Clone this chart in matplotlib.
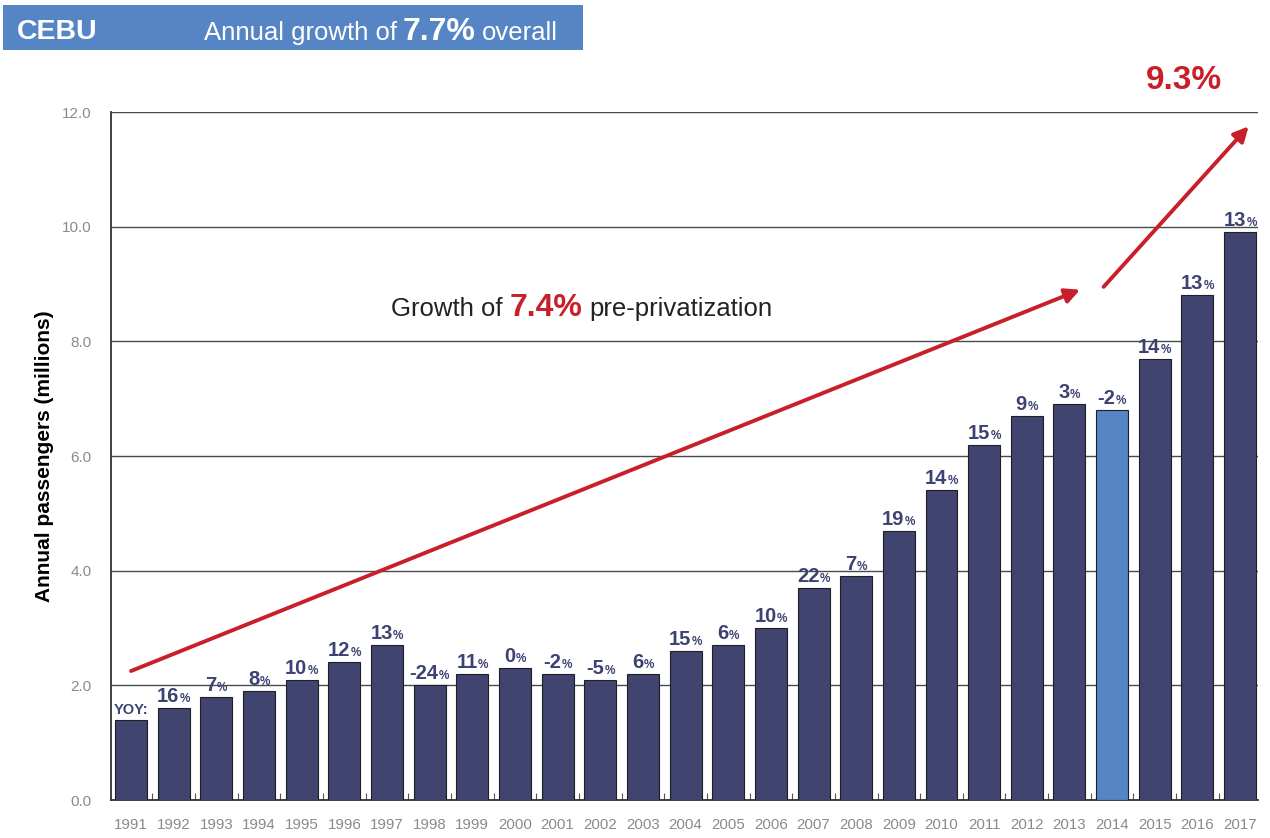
import matplotlib
matplotlib.use('Agg')
import matplotlib.pyplot as plt
from matplotlib.transforms import IdentityTransform
from matplotlib.patches import Rectangle
from matplotlib.ticker import FixedLocator

# annual passengers at Cebu airport, millions
years = list(range(1991, 2018))
passengers = [1.4, 1.6, 1.8, 1.9, 2.1, 2.4, 2.7, 2.0, 2.2, 2.3, 2.2, 2.1, 2.2,
              2.6, 2.7, 3.0, 3.7, 3.9, 4.7, 5.4, 6.2, 6.7, 6.9, 6.8, 7.7, 8.8, 9.9]
# year-on-year growth, %
yoy = [None, 16, 7, 8, 10, 12, 13, -24, 11, 0, -2, -5, 6, 15, 6, 10, 22, 7,
       19, 14, 15, 9, 3, -2, 14, 13, 13]
highlight_year = 2014
y_ticks = [0, 2, 4, 6, 8, 10, 12]

overall_growth = 7.7
pre_growth = 7.4
post_growth = 9.3
# trend arrows (year, millions)
pre_trend = [(1991, 2.25), (2013.25, 8.9)]
post_trend = [(2013.8, 8.95), (2017.2, 11.75)]

NAVY = '#40446e'
LABEL = '#3d4273'
BLUE = '#5585c5'
RED = '#c8202a'
GREY = '#8a8a8a'

plt.rcParams['font.family'] = ['Liberation Sans', 'DejaVu Sans']

W, H = 1270, 838
fig = plt.figure(figsize=(W / 100, H / 100), dpi=100)
ax = fig.add_axes([111 / W, 1 - 800 / H, 1147 / W, 688 / H])

colors = [BLUE if y == highlight_year else NAVY for y in years]
ax.bar(years, passengers, width=0.75, color=colors, edgecolor='#1e1e2a',
       linewidth=0.8, zorder=3)

ax.set_xlim(1990.53, 2017.42)
ax.set_ylim(0, 12)
ax.set_yticks(y_ticks)
ax.set_yticklabels([f'{v:.1f}' for v in y_ticks])
ax.set_xticks(years)
ax.set_xticklabels([str(y) for y in years])
ax.xaxis.set_minor_locator(FixedLocator([y + 0.5 for y in years[:-1]]))
ax.tick_params(axis='y', length=0, pad=14, labelsize=11, labelcolor=GREY)
ax.tick_params(axis='x', which='major', length=0, pad=13, labelsize=10.8,
               labelcolor=GREY)
ax.tick_params(axis='x', which='minor', direction='in', length=5, width=0.8,
               color='#555555')

ax.grid(axis='y', color='#4a4a4a', linewidth=1.0, zorder=0)
ax.set_axisbelow(True)
for side in ('top', 'right'):
    ax.spines[side].set_visible(False)
for side in ('left', 'bottom'):
    ax.spines[side].set_color('#333333')
    ax.spines[side].set_linewidth(1.3)

ax.set_ylabel('Annual passengers (millions)', fontsize=15, fontweight='bold',
              color='black')
ax.yaxis.set_label_coords(-0.05, 0.5)

# trend arrows
for start, end in (pre_trend, post_trend):
    ax.annotate('', xy=end, xytext=start,
                arrowprops=dict(arrowstyle='-|>', color=RED, lw=2.8,
                                mutation_scale=22, shrinkA=0, shrinkB=0),
                zorder=5)

renderer = fig.canvas.get_renderer()


def draw_runs(runs, x, y, ha='left'):
    """Place text pieces side by side on one baseline, in pixel coords."""
    texts, widths = [], []
    for s, size, weight, color, gap in runs:
        t = fig.text(0, y, s, transform=IdentityTransform(), fontsize=size,
                     fontweight=weight, color=color, va='baseline', ha='left',
                     zorder=10)
        texts.append(t)
        widths.append(t.get_window_extent(renderer).width + gap)
    total = sum(widths)
    x0 = x - total / 2 if ha == 'center' else x
    for t, w in zip(texts, widths):
        t.set_x(x0)
        x0 += w


# YOY labels above bars
for year, val, g in zip(years, passengers, yoy):
    px, py = ax.transData.transform((year, val))
    if g is None:
        draw_runs([('YOY:', 10.5, 'bold', LABEL, 0)], px, py + 6, ha='center')
    else:
        draw_runs([(f'{g}', 14.5, 'bold', LABEL, 0.5),
                   ('%', 8.5, 'bold', LABEL, 0)], px, py + 6, ha='center')

# title banner
fig.patches.append(Rectangle((3, H - 50), 580, 45, transform=IdentityTransform(),
                             facecolor=BLUE, edgecolor='none', zorder=1))
draw_runs([('CEBU', 20.5, 'bold', 'white', 0)], 17, H - 39)
draw_runs([('Annual growth of', 18.5, 'normal', 'white', 6),
           (f'{overall_growth}%', 23, 'bold', 'white', 6),
           ('overall', 18.5, 'normal', 'white', 0)], 204, H - 40)

# trend annotations
draw_runs([('Growth of', 18.5, 'normal', '#222222', 7),
           (f'{pre_growth}%', 23, 'bold', RED, 7),
           ('pre-privatization', 18.5, 'normal', '#222222', 0)],
          582, H - 316, ha='center')
draw_runs([(f'{post_growth}%', 24, 'bold', RED, 0)], 1184, H - 89, ha='center')

fig.savefig('out.png', dpi=100)
